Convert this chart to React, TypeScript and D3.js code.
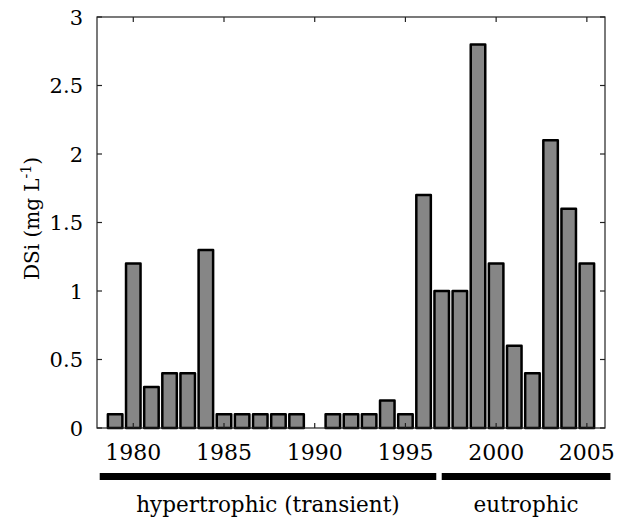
import React from 'react';
import * as d3 from 'd3';

// annual DSi values (mg L-1)
const years = d3.range(1979, 2006);
const dsi = [
  0.1, 1.2, 0.3, 0.4, 0.4, 1.3, 0.1, 0.1, 0.1, 0.1, 0.1, 0, 0.1, 0.1, 0.1, 0.2,
  0.1, 1.7, 1.0, 1.0, 2.8, 1.2, 0.6, 0.4, 2.1, 1.6, 1.2,
];
const yTicks = [0, 0.5, 1, 1.5, 2, 2.5, 3];
const xTicks = [1980, 1985, 1990, 1995, 2000, 2005];
const periodNames = ['hypertrophic (transient)', 'eutrophic'];
const periodStart = [1978.15, 1997.0];
const periodEnd = [1996.7, 2006.3];

const W = 623,
  H = 520;
const margin = { top: 17, right: 18, bottom: 92, left: 97 };

export default function App() {
  const x = d3.scaleLinear().domain([1978, 2006]).range([margin.left, W - margin.right]);
  const y = d3.scaleLinear().domain([0, 3]).range([H - margin.bottom, margin.top]);
  const barHalf = 0.4;
  const txt = { fontFamily: "'DejaVu Serif', serif" };
  const tick = 5;
  const x0 = x.range()[0],
    x1 = x.range()[1];
  const yb = y(0),
    yt = y(3);

  return (
    <svg width={W} height={H} style={{ position: 'absolute', left: 0, top: 0 }}>
      <rect width={W} height={H} fill="#fff" />

      {/* bars */}
      {years.map((yr, i) => (
        <rect
          key={yr}
          x={x(yr - barHalf)}
          y={y(dsi[i])}
          width={x(yr + barHalf) - x(yr - barHalf)}
          height={yb - y(dsi[i])}
          fill="#868686"
          stroke="#000"
          strokeWidth={2.5}
          strokeLinejoin="round"
        />
      ))}

      {/* axes box */}
      <rect x={x0} y={yt} width={x1 - x0} height={yb - yt} fill="none" stroke="#222" strokeWidth={1.2} />

      {/* y ticks */}
      {yTicks.map((t) => (
        <g key={t}>
          <line x1={x0} x2={x0 + tick} y1={y(t)} y2={y(t)} stroke="#222" strokeWidth={1.2} />
          <line x1={x1} x2={x1 - tick} y1={y(t)} y2={y(t)} stroke="#222" strokeWidth={1.2} />
          <text style={txt} x={x0 - 14} y={y(t)} dy="0.36em" textAnchor="end" fontSize={21}>
            {t}
          </text>
        </g>
      ))}

      {/* x ticks */}
      {xTicks.map((t) => (
        <g key={t}>
          <line x1={x(t)} x2={x(t)} y1={yb} y2={yb - tick} stroke="#222" strokeWidth={1.2} />
          <line x1={x(t)} x2={x(t)} y1={yt} y2={yt + tick} stroke="#222" strokeWidth={1.2} />
          <text style={txt} x={x(t)} y={460} textAnchor="middle" fontSize={22}>
            {t}
          </text>
        </g>
      ))}

      {/* y label */}
      <text
        style={txt}
        transform={`translate(39,${(yt + yb) / 2 - 4}) rotate(-90)`}
        textAnchor="middle"
        fontSize={20}
      >
        DSi (mg L
        <tspan dy={-8} fontSize={14}>
          -1
        </tspan>
        <tspan dy={8}>)</tspan>
      </text>

      {/* trophic periods */}
      {periodNames.map((name, i) => (
        <g key={name}>
          <line
            x1={x(periodStart[i])}
            x2={x(periodEnd[i])}
            y1={476.5}
            y2={476.5}
            stroke="#000"
            strokeWidth={7}
          />
          <text
            style={txt}
            x={(x(periodStart[i]) + x(periodEnd[i])) / 2}
            y={512}
            textAnchor="middle"
            fontSize={21.5}
          >
            {name}
          </text>
        </g>
      ))}
    </svg>
  );
}
